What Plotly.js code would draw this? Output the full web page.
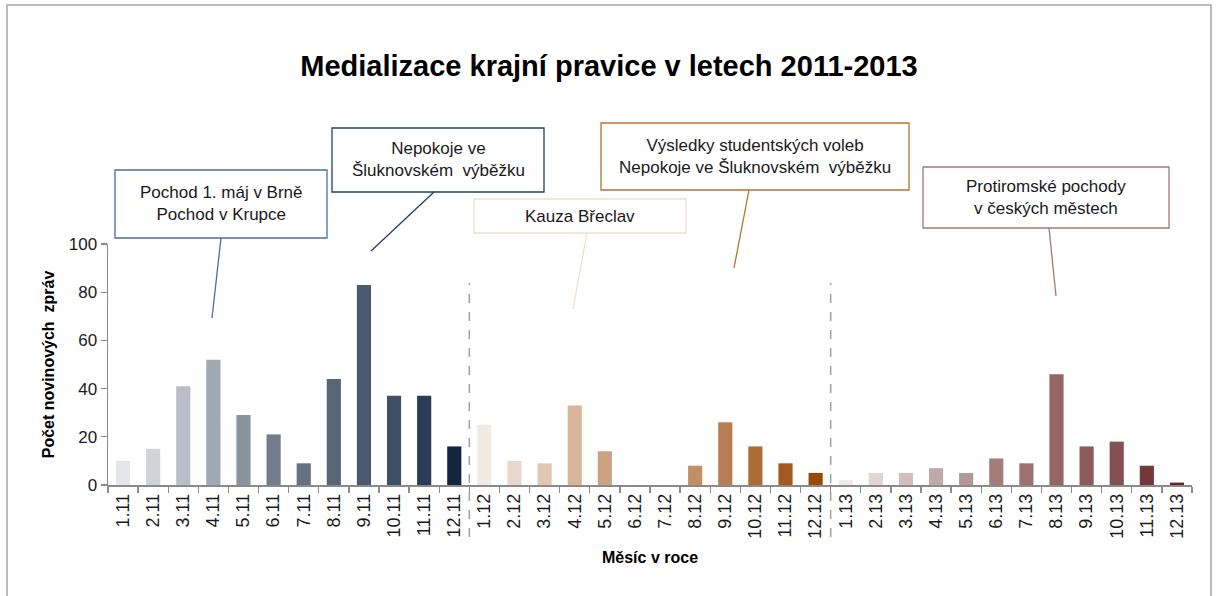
<!DOCTYPE html>
<html>
<head>
<meta charset="utf-8">
<script src="https://cdn.plot.ly/plotly-3.0.1.min.js"></script>
<style>html,body{margin:0;padding:0;background:#fff;}#chart{width:1218px;height:596px;}</style>
</head>
<body>
<div id="chart"></div>
<script>
// ---- data ----
const months = ["1.11","2.11","3.11","4.11","5.11","6.11","7.11","8.11","9.11","10.11","11.11","12.11",
                "1.12","2.12","3.12","4.12","5.12","6.12","7.12","8.12","9.12","10.12","11.12","12.12",
                "1.13","2.13","3.13","4.13","5.13","6.13","7.13","8.13","9.13","10.13","11.13","12.13"];
const values2011 = [10, 15, 41, 52, 29, 21, 9, 44, 83, 37, 37, 16];
const values2012 = [25, 10, 9, 33, 14, 0, 0, 8, 26, 16, 9, 5];
const values2013 = [2, 5, 5, 7, 5, 11, 9, 46, 16, 18, 8, 1];
const yTicks = [0, 20, 40, 60, 80, 100];
const events = [
  "Pochod 1. máj v Brně<br>Pochod v Krupce",
  "Nepokoje ve<br>Šluknovském  výběžku",
  "Kauza Břeclav",
  "Výsledky studentských voleb<br>Nepokoje ve Šluknovském  výběžku",
  "Protiromské pochody<br>v českých městech"
];

// ---- styles ----
const barColors = [
  "#e5e6ea","#d0d3d8","#b8bec6","#a0a8b2","#89939e","#717d8b","#657184","#586577","#4a5a70","#3e4f66","#2b3c56","#12243e",
  "#f2ebe4","#e8d8cc","#e0c7b2","#d6b59b","#cba281","#c6996f","#c3946b","#c08f68","#b67e52","#ab6c36","#a25a22","#984a08",
  "#f0e9e9","#e0d4d4","#d0bfbe","#c0a9a9","#b49897","#a47d7b","#9c7270","#936563","#8c5b59","#845050","#73393a","#662628"
];
const eventColors = ["#4a6fa0","#22405f","#efdfd0","#b8732f","#a07a7a"];
const FONT = "Liberation Sans, Arial, sans-serif";

const W = 1218, H = 596;
const L = 108, R = 26, T = 244, B = 111;
const pw = W - L - R, ph = H - T - B;
const px = x => (x - L) / pw;
const py = y => (H - B - y) / ph;

const allValues = values2011.concat(values2012, values2013);

const trace = {
  type: "bar",
  x: months,
  y: allValues,
  marker: { color: barColors },
  hoverinfo: "x+y"
};

// annotation boxes (pixel geometry)
const boxes = [
  {x0:115, x1:327, y0:170, y1:238, lx0:221, ly0:238, lx1:212, ly1:318},
  {x0:332, x1:544, y0:128, y1:192, lx0:434, ly0:192, lx1:371, ly1:251},
  {x0:474, x1:686, y0:199, y1:233, lx0:587, ly0:233, lx1:573, ly1:309},
  {x0:601, x1:909, y0:123, y1:190, lx0:749, ly0:190, lx1:734, ly1:268},
  {x0:923, x1:1169, y0:167, y1:228, lx0:1049, ly0:228, lx1:1056, ly1:296}
];

const shapes = [];
const annotations = [];
boxes.forEach((b, i) => {
  shapes.push({type:"rect", xref:"paper", yref:"paper",
    x0:px(b.x0), x1:px(b.x1), y0:py(b.y1), y1:py(b.y0),
    line:{color:eventColors[i], width:1.3}, fillcolor:"#ffffff", layer:"above"});
  shapes.push({type:"line", xref:"paper", yref:"paper",
    x0:px(b.lx0), y0:py(b.ly0), x1:px(b.lx1), y1:py(b.ly1),
    line:{color:eventColors[i], width:1.3}});
  annotations.push({xref:"paper", yref:"paper",
    x:px((b.x0+b.x1)/2), y:py((b.y0+b.y1)/2), xanchor:"center", yanchor:"middle",
    text:events[i], showarrow:false, align:"center",
    font:{family:FONT, size:17, color:"#1a1a1a"}});
});

// year separators
[11.5, 23.5].forEach(xv => {
  shapes.push({type:"line", xref:"x", yref:"paper", x0:xv, x1:xv,
    y0:py(537), y1:py(283), line:{color:"#a0a0a0", width:1.5, dash:"dash"}});
});

// outer frame
shapes.push({type:"rect", xref:"paper", yref:"paper",
  x0:px(7), x1:px(1211), y0:py(602), y1:py(5),
  line:{color:"#a6a6a6", width:1.5}, fillcolor:"rgba(0,0,0,0)"});

const layout = {
  width: W, height: H,
  margin: {l:L, r:R, t:T, b:B, pad:0},
  paper_bgcolor: "#ffffff",
  plot_bgcolor: "#ffffff",
  showlegend: false,
  bargap: 0.53,
  font: {family:FONT, color:"#1a1a1a"},
  title: {
    text: "<b>Medializace krajní pravice v letech 2011-2013</b>",
    font: {family:FONT, size:29, color:"#000"},
    x: 609/W, xref:"container", xanchor:"center",
    y: 1 - 66/H, yref:"container", yanchor:"middle"
  },
  xaxis: {
    type: "category",
    categoryorder: "array", categoryarray: months,
    tickangle: -90,
    tickson: "boundaries",
    ticks: "outside", ticklen: 6, tickcolor: "#8a8a8a", tickwidth: 1.3,
    showline: true, linecolor: "#8a8a8a", linewidth: 1.5,
    showgrid: false, zeroline: false,
    tickfont: {size:18, color:"#1a1a1a"},
    title: {text:"<b>Měsíc v roce</b>", font:{size:16, color:"#000"}, standoff: 14},
    range: [-0.5, 35.5]
  },
  yaxis: {
    range: [0, 100],
    tickvals: yTicks,
    ticks: "outside", ticklen: 6, tickcolor: "#8a8a8a", tickwidth: 1.3,
    showline: true, linecolor: "#8a8a8a", linewidth: 1.5,
    showgrid: false, zeroline: false,
    tickfont: {size:17, color:"#1a1a1a"},
    title: {text:"<b>Počet novinových  zpráv</b>", font:{size:16, color:"#000"}, standoff: 10}
  },
  shapes: shapes,
  annotations: annotations
};

Plotly.newPlot("chart", [trace], layout, {displayModeBar:false, staticPlot:true});
</script>
</body>
</html>
